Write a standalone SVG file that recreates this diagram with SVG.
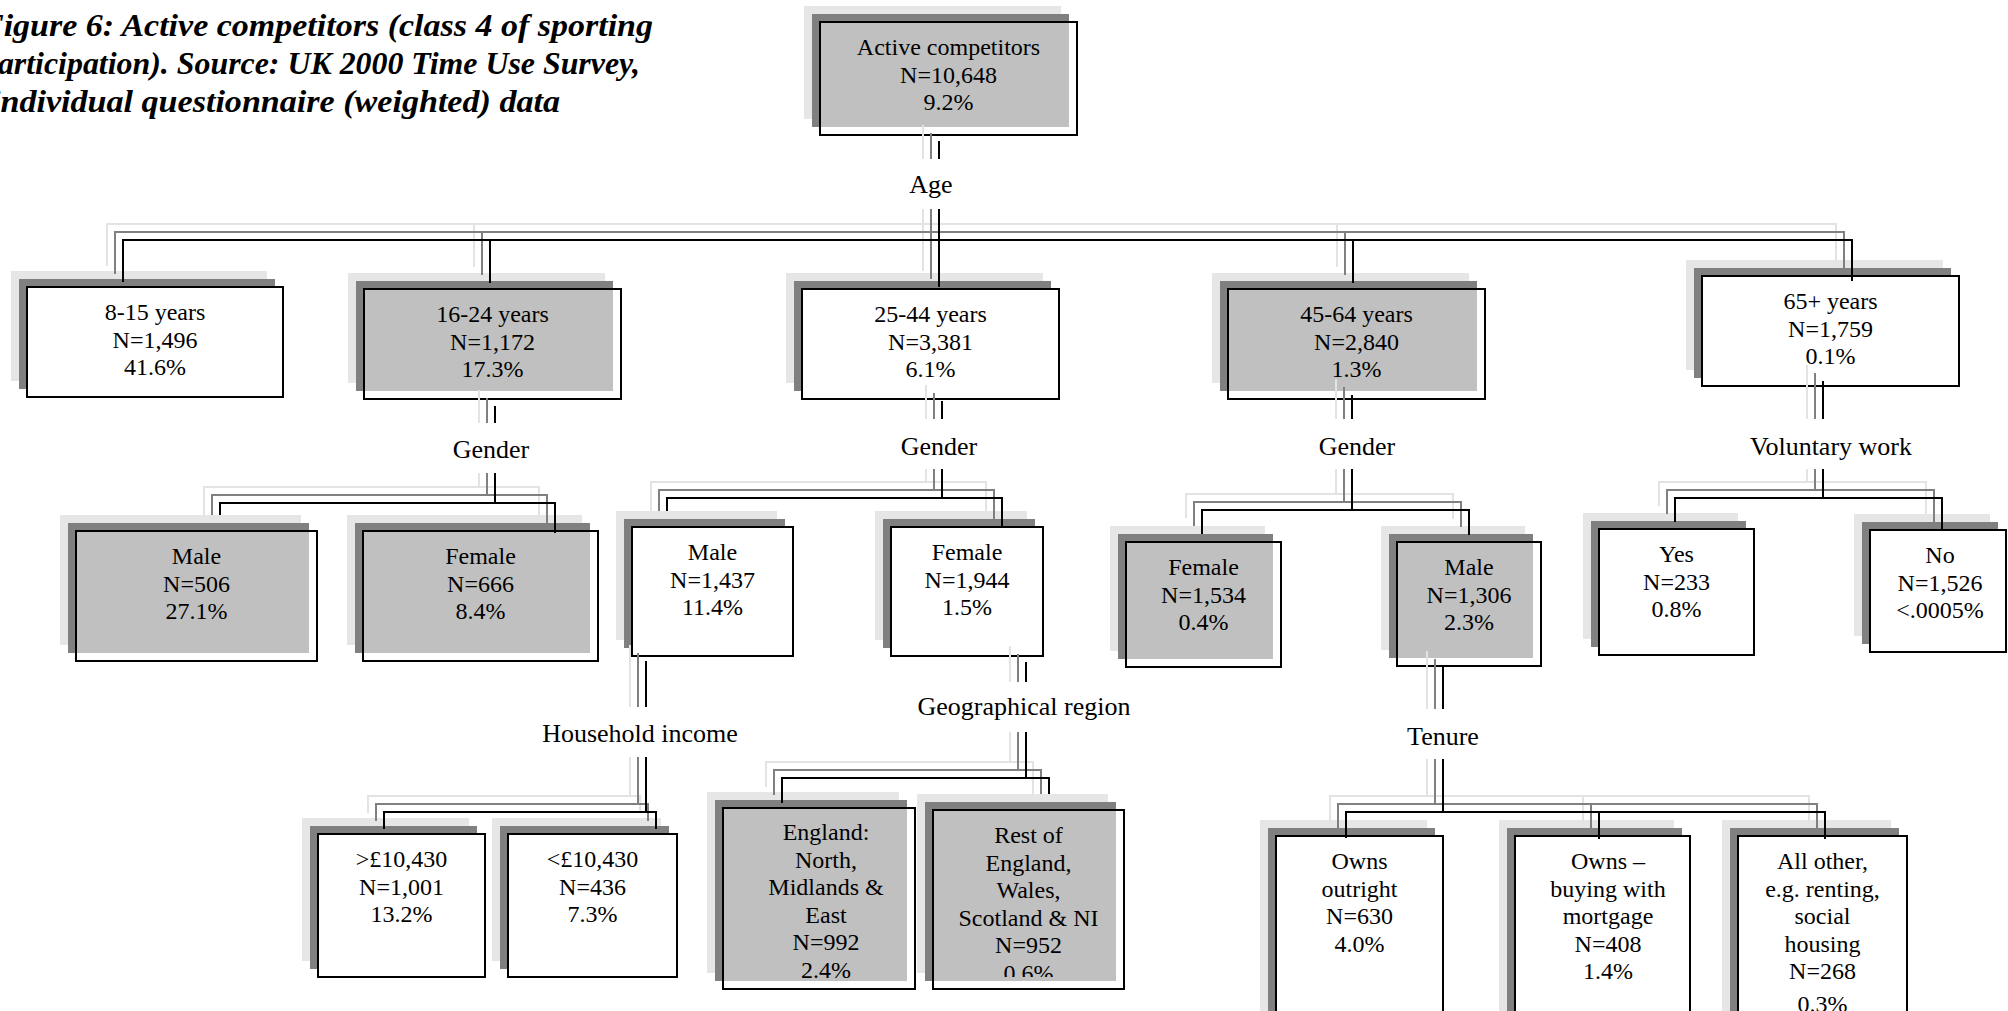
<svg xmlns="http://www.w3.org/2000/svg" xmlns:xlink="http://www.w3.org/1999/xlink" width="2008" height="1011" viewBox="0 0 2008 1011">
<style>
.s1{fill:#e6e6e6}
.s2{fill:#808080}
.gf{fill:#c0c0c0}
.fr{fill:none;stroke:#000;stroke-width:2}
.fw{fill:#fff;stroke:#000;stroke-width:2}
.t{font-family:"Liberation Serif","Times New Roman",serif;font-size:24px;fill:#000;text-anchor:middle}
.lb{font-family:"Liberation Serif","Times New Roman",serif;font-size:26px;fill:#000;text-anchor:middle}
.ln{fill:none;stroke-width:2;stroke-linecap:square}
.k0{stroke:#000}
.k1{stroke:#808080}
.k2{stroke:#e3e3e3}
.mk{fill:#fff}
.ttl{font-family:"Liberation Serif","Times New Roman",serif;font-size:31px;font-style:italic;font-weight:bold;fill:#000}
</style>
<defs>
<!-- connector geometry, drawn three times with shadow offsets -->
<g id="links">
<path d="M939,142V240M123,240H1852M123,240V281M490,240V282M939,240V286M1353,240V282M1852,240V280"/>
<path d="M495,407V503M220,503H555M555,503V532"/>
<path d="M942,402V498M667,498H1002M1002,498V526"/>
<path d="M1352,396V510M1202,510H1469M1202,510V533M1469,510V534"/>
<path d="M1823,382V498M1675,498H1942M1675,498V521M1942,498V530"/>
<path d="M646,662V812M384,812H656M384,812V828M656,812V828"/>
<path d="M1026,663V778M782,778H1049M782,778V802"/>
<path d="M1443,668V812M1346,812H1825M1346,812V837M1599,812V838M1825,812V838"/>
</g>
<clipPath id="clipRest"><rect x="933" y="810" width="191" height="167"/></clipPath>
</defs>
<rect width="2008" height="1011" fill="#fff"/>

<g id="title" class="ttl">
<text x="-19" y="36" textLength="672" lengthAdjust="spacingAndGlyphs">Figure 6: Active competitors (class 4 of sporting</text>
<text x="-18" y="74" textLength="658" lengthAdjust="spacingAndGlyphs">participation). Source: UK 2000 Time Use Survey,</text>
<text x="-9" y="112" textLength="569" lengthAdjust="spacingAndGlyphs">individual questionnaire (weighted) data</text>
</g>

<!-- connectors that pass behind their child box -->
<g id="connectors-back" class="ln">
<path class="k2" d="M204,487V515M651,482V511M1033,762V794"/>
<path class="k1" d="M212,495V515M659,490V511M1041,770V794"/>
<path class="k0" d="M220,503V515M667,498V511M1049,778V794"/>
</g>

<g id="nodes">
<g id="n-root">
<rect class="s1" x="804" y="6" width="257" height="113"/>
<rect class="s2" x="812" y="14" width="257" height="113"/>
<rect class="gf" x="820" y="22" width="249" height="105"/>
<rect class="fr" x="820" y="22" width="257" height="113"/>
<text class="t"><tspan x="948.5" y="55">Active competitors</tspan><tspan x="948.5" y="82.5">N=10,648</tspan><tspan x="948.5" y="110">9.2%</tspan></text>
</g>
<g id="n-age-8-15">
<rect class="s1" x="11" y="271" width="256" height="110"/>
<rect class="s2" x="19" y="279" width="256" height="110"/>
<rect class="fw" x="27" y="287" width="256" height="110"/>
<text class="t"><tspan x="155" y="320">8-15 years</tspan><tspan x="155" y="347.5">N=1,496</tspan><tspan x="155" y="375">41.6%</tspan></text>
</g>
<g id="n-age-16-24">
<rect class="s1" x="348" y="273" width="257" height="110"/>
<rect class="s2" x="356" y="281" width="257" height="110"/>
<rect class="gf" x="364" y="289" width="249" height="102"/>
<rect class="fr" x="364" y="289" width="257" height="110"/>
<text class="t"><tspan x="492.5" y="322">16-24 years</tspan><tspan x="492.5" y="349.5">N=1,172</tspan><tspan x="492.5" y="377">17.3%</tspan></text>
</g>
<g id="n-age-25-44">
<rect class="s1" x="786" y="273" width="257" height="110"/>
<rect class="s2" x="794" y="281" width="257" height="110"/>
<rect class="fw" x="802" y="289" width="257" height="110"/>
<text class="t"><tspan x="930.5" y="322">25-44 years</tspan><tspan x="930.5" y="349.5">N=3,381</tspan><tspan x="930.5" y="377">6.1%</tspan></text>
</g>
<g id="n-age-45-64">
<rect class="s1" x="1212" y="273" width="257" height="110"/>
<rect class="s2" x="1220" y="281" width="257" height="110"/>
<rect class="gf" x="1228" y="289" width="249" height="102"/>
<rect class="fr" x="1228" y="289" width="257" height="110"/>
<text class="t"><tspan x="1356.5" y="322">45-64 years</tspan><tspan x="1356.5" y="349.5">N=2,840</tspan><tspan x="1356.5" y="377">1.3%</tspan></text>
</g>
<g id="n-age-65">
<rect class="s1" x="1686" y="260" width="257" height="110"/>
<rect class="s2" x="1694" y="268" width="257" height="110"/>
<rect class="fw" x="1702" y="276" width="257" height="110"/>
<text class="t"><tspan x="1830.5" y="309">65+ years</tspan><tspan x="1830.5" y="336.5">N=1,759</tspan><tspan x="1830.5" y="364">0.1%</tspan></text>
</g>
<g id="n-16-24-male">
<rect class="s1" x="60" y="515" width="241" height="130"/>
<rect class="s2" x="68" y="523" width="241" height="130"/>
<rect class="gf" x="76" y="531" width="233" height="122"/>
<rect class="fr" x="76" y="531" width="241" height="130"/>
<text class="t"><tspan x="196.5" y="564">Male</tspan><tspan x="196.5" y="591.5">N=506</tspan><tspan x="196.5" y="619">27.1%</tspan></text>
</g>
<g id="n-16-24-female">
<rect class="s1" x="347" y="515" width="235" height="130"/>
<rect class="s2" x="355" y="523" width="235" height="130"/>
<rect class="gf" x="363" y="531" width="227" height="122"/>
<rect class="fr" x="363" y="531" width="235" height="130"/>
<text class="t"><tspan x="480.5" y="564">Female</tspan><tspan x="480.5" y="591.5">N=666</tspan><tspan x="480.5" y="619">8.4%</tspan></text>
</g>
<g id="n-25-44-male">
<rect class="s1" x="616" y="511" width="161" height="129"/>
<rect class="s2" x="624" y="519" width="161" height="129"/>
<rect class="fw" x="632" y="527" width="161" height="129"/>
<text class="t"><tspan x="712.5" y="560">Male</tspan><tspan x="712.5" y="587.5">N=1,437</tspan><tspan x="712.5" y="615">11.4%</tspan></text>
</g>
<g id="n-25-44-female">
<rect class="s1" x="875" y="511" width="152" height="129"/>
<rect class="s2" x="883" y="519" width="152" height="129"/>
<rect class="fw" x="891" y="527" width="152" height="129"/>
<text class="t"><tspan x="967" y="560">Female</tspan><tspan x="967" y="587.5">N=1,944</tspan><tspan x="967" y="615">1.5%</tspan></text>
</g>
<g id="n-45-64-female">
<rect class="s1" x="1110" y="526" width="155" height="125"/>
<rect class="s2" x="1118" y="534" width="155" height="125"/>
<rect class="gf" x="1126" y="542" width="147" height="117"/>
<rect class="fr" x="1126" y="542" width="155" height="125"/>
<text class="t"><tspan x="1203.5" y="575">Female</tspan><tspan x="1203.5" y="602.5">N=1,534</tspan><tspan x="1203.5" y="630">0.4%</tspan></text>
</g>
<g id="n-45-64-male">
<rect class="s1" x="1381" y="526" width="144" height="124"/>
<rect class="s2" x="1389" y="534" width="144" height="124"/>
<rect class="gf" x="1397" y="542" width="136" height="116"/>
<rect class="fr" x="1397" y="542" width="144" height="124"/>
<text class="t"><tspan x="1469" y="575">Male</tspan><tspan x="1469" y="602.5">N=1,306</tspan><tspan x="1469" y="630">2.3%</tspan></text>
</g>
<g id="n-65-yes">
<rect class="s1" x="1583" y="513" width="155" height="126"/>
<rect class="s2" x="1591" y="521" width="155" height="126"/>
<rect class="fw" x="1599" y="529" width="155" height="126"/>
<text class="t"><tspan x="1676.5" y="562">Yes</tspan><tspan x="1676.5" y="589.5">N=233</tspan><tspan x="1676.5" y="617">0.8%</tspan></text>
</g>
<g id="n-65-no">
<rect class="s1" x="1854" y="514" width="136" height="122"/>
<rect class="s2" x="1862" y="522" width="136" height="122"/>
<rect class="fw" x="1870" y="530" width="136" height="122"/>
<text class="t"><tspan x="1940" y="563">No</tspan><tspan x="1940" y="590.5">N=1,526</tspan><tspan x="1940" y="618">&lt;.0005%</tspan></text>
</g>
<g id="n-income-high">
<rect class="s1" x="302" y="818" width="167" height="143"/>
<rect class="s2" x="310" y="826" width="167" height="143"/>
<rect class="fw" x="318" y="834" width="167" height="143"/>
<text class="t"><tspan x="401.5" y="867">&gt;£10,430</tspan><tspan x="401.5" y="894.5">N=1,001</tspan><tspan x="401.5" y="922">13.2%</tspan></text>
</g>
<g id="n-income-low">
<rect class="s1" x="492" y="818" width="169" height="143"/>
<rect class="s2" x="500" y="826" width="169" height="143"/>
<rect class="fw" x="508" y="834" width="169" height="143"/>
<text class="t"><tspan x="592.5" y="867">&lt;£10,430</tspan><tspan x="592.5" y="894.5">N=436</tspan><tspan x="592.5" y="922">7.3%</tspan></text>
</g>
<g id="n-region-england">
<rect class="s1" x="707" y="792" width="192" height="181"/>
<rect class="s2" x="715" y="800" width="192" height="181"/>
<rect class="gf" x="723" y="808" width="184" height="173"/>
<rect class="fr" x="723" y="808" width="192" height="181"/>
<text class="t"><tspan x="826" y="840">England:</tspan><tspan x="826" y="867.5">North,</tspan><tspan x="826" y="895">Midlands &amp;</tspan><tspan x="826" y="922.5">East</tspan><tspan x="826" y="950">N=992</tspan><tspan x="826" y="977.5">2.4%</tspan></text>
</g>
<g id="n-region-rest">
<rect class="s1" x="917" y="794" width="191" height="179"/>
<rect class="s2" x="925" y="802" width="191" height="179"/>
<rect class="gf" x="933" y="810" width="183" height="171"/>
<rect class="fr" x="933" y="810" width="191" height="179"/>
<text class="t" clip-path="url(#clipRest)"><tspan x="1028.5" y="843">Rest of</tspan><tspan x="1028.5" y="870.5">England,</tspan><tspan x="1028.5" y="898">Wales,</tspan><tspan x="1028.5" y="925.5">Scotland &amp; NI</tspan><tspan x="1028.5" y="953">N=952</tspan><tspan x="1028.5" y="980.5">0.6%</tspan></text>
</g>
<g id="n-tenure-owns">
<rect class="s1" x="1260" y="820" width="167" height="220"/>
<rect class="s2" x="1268" y="828" width="167" height="220"/>
<rect class="fw" x="1276" y="836" width="167" height="220"/>
<text class="t"><tspan x="1359.5" y="869">Owns</tspan><tspan x="1359.5" y="896.5">outright</tspan><tspan x="1359.5" y="924">N=630</tspan><tspan x="1359.5" y="951.5">4.0%</tspan></text>
</g>
<g id="n-tenure-mortgage">
<rect class="s1" x="1499" y="820" width="175" height="220"/>
<rect class="s2" x="1507" y="828" width="175" height="220"/>
<rect class="fw" x="1515" y="836" width="175" height="220"/>
<text class="t"><tspan x="1608" y="869">Owns –</tspan><tspan x="1608" y="896.5">buying with</tspan><tspan x="1608" y="924">mortgage</tspan><tspan x="1608" y="951.5">N=408</tspan><tspan x="1608" y="979">1.4%</tspan></text>
</g>
<g id="n-tenure-other">
<rect class="s1" x="1722" y="820" width="169" height="220"/>
<rect class="s2" x="1730" y="828" width="169" height="220"/>
<rect class="fw" x="1738" y="836" width="169" height="220"/>
<text class="t"><tspan x="1822.5" y="869">All other,</tspan><tspan x="1822.5" y="896.5">e.g. renting,</tspan><tspan x="1822.5" y="924">social</tspan><tspan x="1822.5" y="951.5">housing</tspan><tspan x="1822.5" y="979">N=268</tspan><tspan x="1822.5" y="1012">0.3%</tspan></text>
</g>
</g>

<g id="connectors" class="ln">
<use xlink:href="#links" href="#links" class="k2" transform="translate(-16,-16)"/>
<use xlink:href="#links" href="#links" class="k1" transform="translate(-8,-8)"/>
<use xlink:href="#links" href="#links" class="k0"/>
</g>

<g id="split-labels">
<rect class="mk" x="903" y="159" width="56" height="50"/>
<text class="lb" x="931" y="193">Age</text>
<rect class="mk" x="451" y="423" width="80" height="50"/>
<text class="lb" x="491" y="458">Gender</text>
<rect class="mk" x="899" y="419" width="80" height="50"/>
<text class="lb" x="939" y="455">Gender</text>
<rect class="mk" x="1317" y="419" width="80" height="50"/>
<text class="lb" x="1357" y="455">Gender</text>
<rect class="mk" x="1745" y="419" width="172" height="50"/>
<text class="lb" x="1831" y="455">Voluntary work</text>
<rect class="mk" x="538" y="707" width="204" height="50"/>
<text class="lb" x="640" y="742">Household income</text>
<rect class="mk" x="914" y="682" width="220" height="50"/>
<text class="lb" x="1024" y="715">Geographical region</text>
<rect class="mk" x="1403" y="709" width="80" height="50"/>
<text class="lb" x="1443" y="745">Tenure</text>
</g>
</svg>
